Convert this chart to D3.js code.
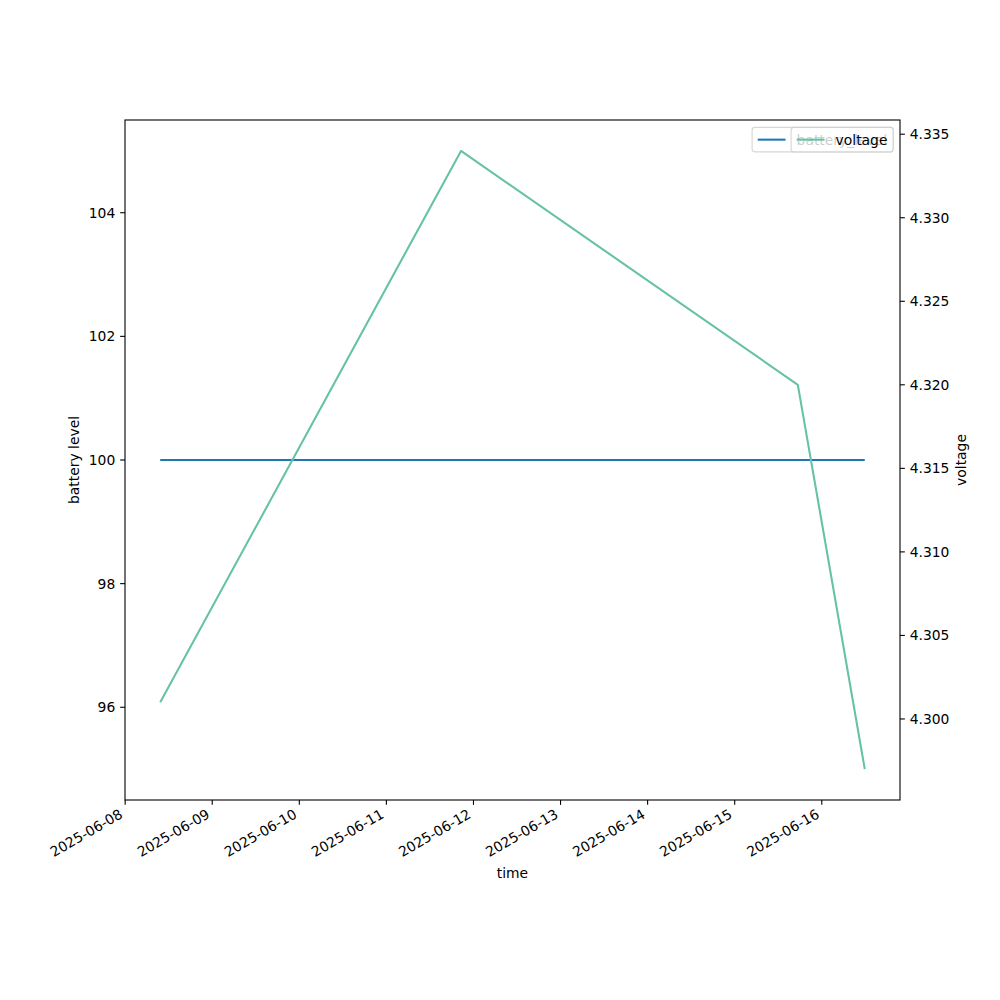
<!DOCTYPE html>
<html>
<head>
<meta charset="utf-8">
<script src="https://cdn.jsdelivr.net/npm/d3@7"></script>
<style>
  body { margin: 0; background: #fff; }
  svg { display: block; }
  text { font-family: "DejaVu Sans", sans-serif; }
</style>
</head>
<body>
<svg id="chart" width="1000" height="1000"></svg>
<script>
// ---- data ----
const times = ["2025-06-08T09:40:00Z", "2025-06-11T20:34:00Z", "2025-06-15T17:24:00Z", "2025-06-16T11:51:00Z"];
const batteryLevel = [100, 100, 100, 100];
const voltage = [4.301, 4.334, 4.320, 4.297];
const xTickLabels = ["2025-06-08","2025-06-09","2025-06-10","2025-06-11","2025-06-12","2025-06-13","2025-06-14","2025-06-15","2025-06-16"];
const leftTicks = [96, 98, 100, 102, 104];
const rightTicks = [4.300, 4.305, 4.310, 4.315, 4.320, 4.325, 4.330, 4.335];
const seriesNames = ["battery_level", "voltage"];
const colors = ["#1f77b4", "#66c2a5"];

// ---- layout ----
const W = 1000, H = 1000;
const L = 125, R = 900, T = 120, B = 800;
const fs = 13.89;
const tickLen = 4.86;
const svg = d3.select("#chart");

const parsed = times.map(t => new Date(t));
const tmin = d3.min(parsed), tmax = d3.max(parsed);
const span = tmax - tmin;
const x = d3.scaleUtc()
  .domain([new Date(+tmin - span * 0.05), new Date(+tmax + span * 0.05)])
  .range([L, R]);

const bMin = d3.min(batteryLevel), bMax = d3.max(batteryLevel);
const yL = d3.scaleLinear().domain(bMin === bMax ? [bMin * 0.945, bMax * 1.055] : [bMin - (bMax - bMin) * 0.05, bMax + (bMax - bMin) * 0.05]).range([B, T]);
const vMin = d3.min(voltage), vMax = d3.max(voltage);
const yR = d3.scaleLinear().domain([vMin - (vMax - vMin) * 0.05, vMax + (vMax - vMin) * 0.05]).range([B, T]);

// ---- lines ----
const plot = svg.append("g");
const clip = svg.append("defs").append("clipPath").attr("id", "clip")
  .append("rect").attr("x", L).attr("y", T).attr("width", R - L).attr("height", B - T);
const lineB = d3.line().x((d, i) => x(parsed[i])).y(d => yL(d));
const lineV = d3.line().x((d, i) => x(parsed[i])).y(d => yR(d));
plot.append("path").datum(batteryLevel).attr("d", lineB)
  .attr("fill", "none").attr("stroke", colors[0]).attr("stroke-width", 2.08).attr("clip-path", "url(#clip)");
plot.append("path").datum(voltage).attr("d", lineV)
  .attr("fill", "none").attr("stroke", colors[1]).attr("stroke-width", 2.08).attr("clip-path", "url(#clip)")
  .attr("stroke-linejoin", "round");

// ---- spines ----
svg.append("rect").attr("x", L).attr("y", T).attr("width", R - L).attr("height", B - T)
  .attr("fill", "none").attr("stroke", "#000").attr("stroke-width", 1.1);

// ---- x axis ----
const xTickDates = xTickLabels.map(s => new Date(s + "T00:00:00Z"));
const xg = svg.append("g");
xTickDates.forEach((d, i) => {
  const px = x(d);
  if (px < L - 0.5 || px > R + 0.5) return;
  xg.append("line").attr("x1", px).attr("x2", px).attr("y1", B).attr("y2", B + tickLen)
    .attr("stroke", "#000").attr("stroke-width", 1.1);
  xg.append("text").attr("transform", `translate(${px - 1.5},${B + 17}) rotate(-30)`)
    .attr("text-anchor", "end").attr("font-size", fs).attr("fill", "#000")
    .text(xTickLabels[i]);
});
svg.append("text").attr("x", (L + R) / 2).attr("y", 878).attr("text-anchor", "middle")
  .attr("font-size", fs).text("time");

// ---- left axis ----
const lg = svg.append("g");
leftTicks.forEach(v => {
  const py = yL(v);
  lg.append("line").attr("x1", L - tickLen).attr("x2", L).attr("y1", py).attr("y2", py)
    .attr("stroke", "#000").attr("stroke-width", 1.1);
  lg.append("text").attr("x", L - tickLen - 4.86).attr("y", py).attr("dy", "0.36em")
    .attr("text-anchor", "end").attr("font-size", fs).text(d3.format("d")(v));
});
svg.append("text").attr("transform", `translate(79,${(T + B) / 2}) rotate(-90)`)
  .attr("text-anchor", "middle").attr("font-size", fs).text("battery level");

// ---- right axis ----
const rg = svg.append("g");
rightTicks.forEach(v => {
  const py = yR(v);
  rg.append("line").attr("x1", R).attr("x2", R + tickLen).attr("y1", py).attr("y2", py)
    .attr("stroke", "#000").attr("stroke-width", 1.1);
  rg.append("text").attr("x", R + tickLen + 4.86).attr("y", py).attr("dy", "0.36em")
    .attr("text-anchor", "start").attr("font-size", fs).text(d3.format(".3f")(v));
});
svg.append("text").attr("transform", `translate(966,${(T + B) / 2}) rotate(-90)`)
  .attr("text-anchor", "middle").attr("font-size", fs).text("voltage");

// ---- legends (two overlapping, matplotlib style) ----
function legend(name, color, width) {
  const g = svg.append("g");
  const right = R - 6.9, top = T + 7.4, h = 24.5;
  const left = right - width;
  g.append("rect").attr("x", left).attr("y", top).attr("width", width).attr("height", h)
    .attr("rx", 2.8).attr("fill", "#fff").attr("fill-opacity", 0.8)
    .attr("stroke", "#ccc").attr("stroke-opacity", 0.8).attr("stroke-width", 1.1);
  const cy = top + h / 2;
  g.append("line").attr("x1", left + 5.6).attr("x2", left + 33.4).attr("y1", cy).attr("y2", cy)
    .attr("stroke", color).attr("stroke-width", 2.08);
  g.append("text").attr("x", left + 44.5).attr("y", cy).attr("dy", "0.36em")
    .attr("font-size", fs).attr("fill", "#000").text(name);
}
legend(seriesNames[0], colors[0], 141);
legend(seriesNames[1], colors[1], 102);
</script>
</body>
</html>
